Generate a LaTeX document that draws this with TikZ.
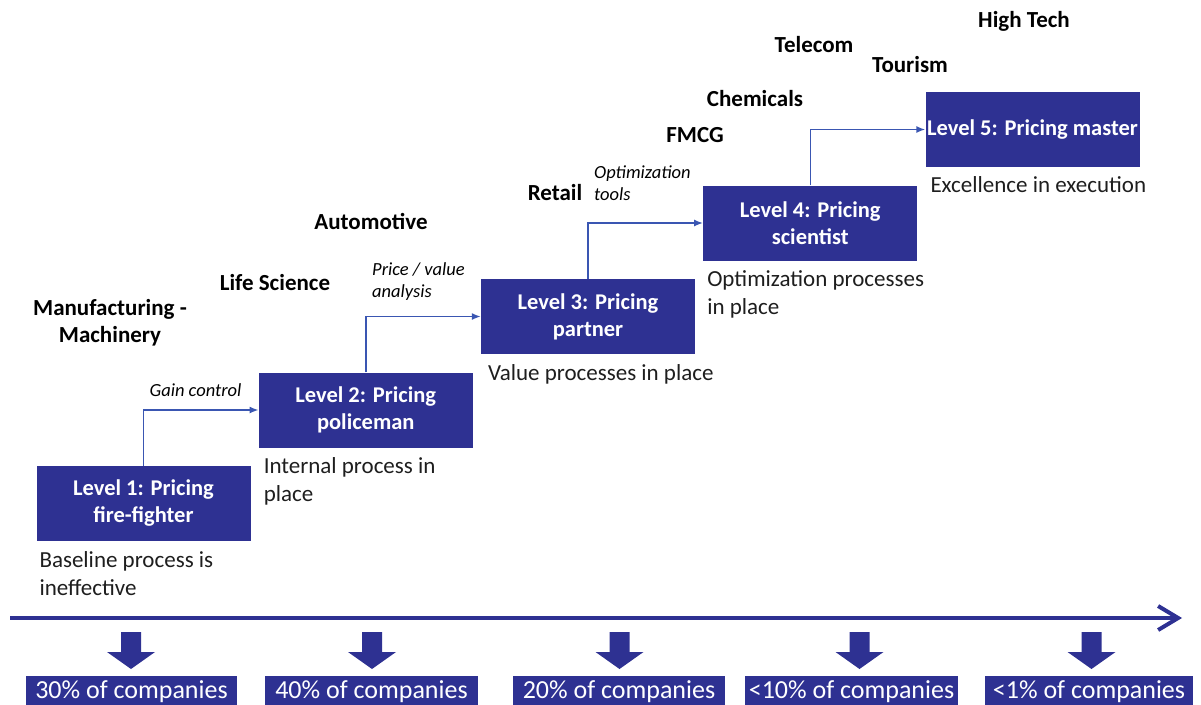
\documentclass[tikz,border=0pt]{standalone}
\usepackage{fontspec}
\setmainfont{Carlito}
\usepackage{tikz}
\usetikzlibrary{arrows.meta}
\definecolor{lvlblue}{RGB}{46,49,146}
\definecolor{linkblue}{RGB}{58,86,178}
\definecolor{desctext}{RGB}{30,30,30}

\begin{document}
\begin{tikzpicture}[x=1pt,y=-1pt]
	\useasboundingbox (0,0) rectangle (1201,704);
	\tikzstyle{level}=[fill=lvlblue,text=white,font=\fontsize{22.5}{27}\selectfont\bfseries,minimum width=214pt,minimum height=75pt,align=center,inner sep=0pt]
	\tikzstyle{desc}=[text=desctext,font=\fontsize{23}{28}\selectfont,align=left,anchor=north west,inner sep=0pt]
	\tikzstyle{sector}=[font=\fontsize{23}{27}\selectfont\bfseries,align=center,inner sep=0pt]
	\tikzstyle{hint}=[font=\fontsize{18.5}{22}\selectfont\itshape,align=left,inner sep=0pt]
	\tikzstyle{link}=[draw=linkblue,line width=1.5pt,-{Latex[length=9pt,width=7pt]}]
	\tikzstyle{share}=[fill=lvlblue,text=white,font=\fontsize{26}{30}\selectfont,anchor=north,inner sep=0pt,text height=22pt,text depth=10pt]

	% levels
	\foreach \i/\t in {1/{Level 1: Pricing\\fire-fighter},2/{Level 2: Pricing\\policeman},3/{Level 3: Pricing\\partner},4/{Level 4: Pricing\\scientist},5/{Level 5: Pricing master}} {
		\node[level] (b_\i) at ({143.5+222.25*(\i-1)},{503.5-93.5*(\i-1)}) {\t};
	}
	\foreach \i in {1,2,3,4} {
		\pgfmathtruncatemacro{\j}{\i+1}
		\draw[link] (b_\i.north) |- (b_\j.west);
	}

	% what each level means
	\node[desc] (d_1) at ([shift={(3,10)}]b_1.south west) {Baseline process is\\ineffective};
	\node[desc] (d_2) at ([shift={(5,10)}]b_2.south west) {Internal process in\\place};
	\node[desc] (d_3) at ([shift={(7,10)}]b_3.south west) {Value processes in place};
	\node[desc] (d_4) at ([shift={(4,10)}]b_4.south west) {Optimization processes\\in place};
	\node[desc] (d_5) at ([shift={(5,9)}]b_5.south west) {Excellence in execution};

	% steps up
	\node[hint,anchor=base] (h_1) at (195.5,396) {Gain control};
	\node[hint,anchor=north west] (h_2) at (372,262) {Price / value\\analysis};
	\node[hint,anchor=north west] (h_3) at (594,166) {Optimization\\tools};

	% sectors
	\foreach \n/\x/\y/\t in {s_1/110/323/{Manufacturing -\\Machinery},s_2/275/283/{Life Science},s_3/371/221/Automotive,s_4/555/193/Retail,s_5/695/135/FMCG,s_6/755/99/Chemicals,s_7/814/45/Telecom,s_8/910/65/Tourism,s_9/1024/21/{High Tech}} {
		\node[sector] (\n) at (\x,\y) {\t};
	}

	% maturity axis
	\coordinate (ax_l) at (10,618);
	\coordinate (ax_r) at (1182,618);
	\draw[draw=lvlblue,line width=4.5pt,-{Straight Barb[length=20pt,width=24pt,line width=4pt]}] (ax_l) -- (ax_r);

	\foreach \i/\a/\x/\w/\t in {1/131/131.5/211/30\% of companies,2/372/371.5/213/40\% of companies,3/619.5/619/212/20\% of companies,4/859.5/851.5/213/<10\% of companies,5/1091.5/1089/208/<1\% of companies} {
		\fill[lvlblue] (\a-10,632) -- (\a+10,632) -- (\a+10,652) -- (\a+24,652) -- (\a,669) -- (\a-24,652) -- (\a-10,652) -- cycle;
		\node[share,minimum width=\w pt] (p_\i) at (\x,676) {\t};
	}
\end{tikzpicture}
\end{document}
